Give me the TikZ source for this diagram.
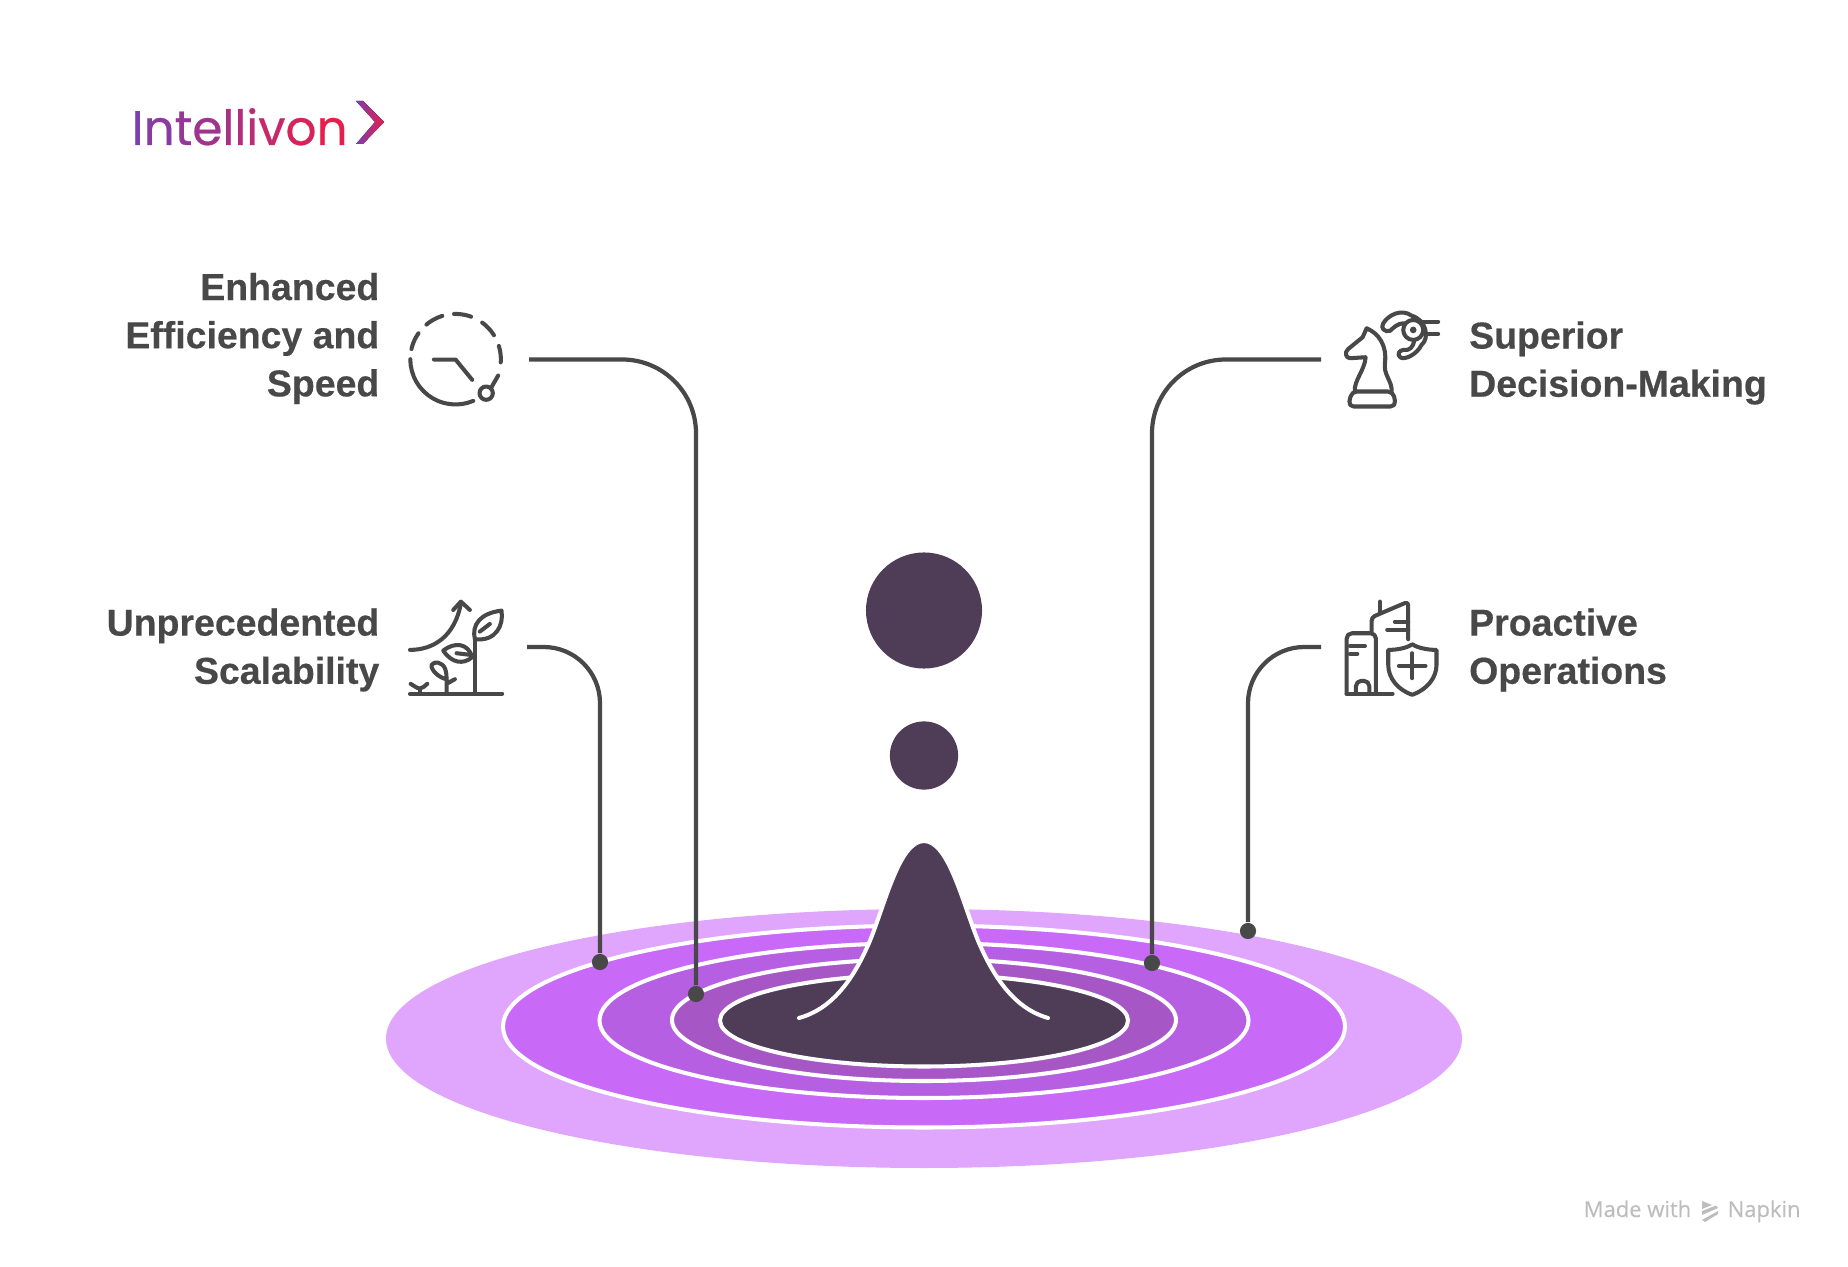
\documentclass[tikz,border=0pt]{standalone}
\usepackage{fontspec}
\setmainfont[BoldFeatures={FakeBold=0.4}]{Liberation Sans}
\newfontfamily\logofont[FakeBold=0.5]{Poppins}
\newfontfamily\footfont[FakeBold=0.2]{Open Sans}
\definecolor{inkgrey}{HTML}{484848}
\definecolor{wellplum}{HTML}{4F3D58}
\definecolor{ringa}{HTML}{E0A5FC}
\definecolor{ringb}{HTML}{C869F8}
\definecolor{ringc}{HTML}{B65FE3}
\definecolor{ringd}{HTML}{A657C5}
\definecolor{logopurple}{HTML}{7B3FB0}
\definecolor{logored}{HTML}{E61E4D}
\definecolor{footgrey}{HTML}{BDBDBD}
\tikzset{
  ringline/.style={draw=white,line width=1.15pt},
  labeltext/.style={text=inkgrey,inner sep=0pt,font=\fontsize{10.65}{13.7}\selectfont\bfseries},
  connector/.style={draw=inkgrey,line width=1.2pt,rounded corners=21pt},
  dotnode/.style={circle,fill=inkgrey,inner sep=0pt,minimum size=4.6pt},
  iconline/.style={draw=inkgrey,line width=1.15pt,line cap=round,line join=round},
  footnote/.style={text=footgrey,inner sep=0pt,anchor=base west,font=\footfont\fontsize{6.25}{7}\selectfont}
}
\begin{document}
\begin{tikzpicture}[x=0.01cm,y=-0.01cm]
  \useasboundingbox (0,0) rectangle (1848,1267);
  \fill[white] (0,0) rectangle (1848,1267);

  \node[anchor=base west,inner sep=0pt,font=\logofont\fontsize{13.8}{15}\selectfont] (logotext) at (131,145)
    {\textcolor{logopurple}{I}\textcolor{logored!12!logopurple}{n}\textcolor{logored!24!logopurple}{t}\textcolor{logored!34!logopurple}{e}\textcolor{logored!42!logopurple}{l}\textcolor{logored!50!logopurple}{l}\textcolor{logored!58!logopurple}{i}\textcolor{logored!72!logopurple}{v}\textcolor{logored!86!logopurple}{o}\textcolor{logored}{n}};
  \fill[left color=logopurple,right color=logored] (356,101) -- (363,101) -- (384,122) -- (363,144) -- (356,144) -- (375,122) -- cycle;

  \fill[ringa] (924,1038.5) ellipse [x radius=538,y radius=129.5];
  \filldraw[fill=ringb,ringline] (924,1026.5) ellipse [x radius=421,y radius=101];
  \filldraw[fill=ringc,ringline] (924,1020.5) ellipse [x radius=324.5,y radius=77.5];
  \filldraw[fill=ringd,ringline] (924,1020) ellipse [x radius=252,y radius=61];
  \filldraw[fill=wellplum,ringline] (924,1020.5) ellipse [x radius=204,y radius=46];
  \filldraw[fill=wellplum,ringline,line cap=round]
    (799,1018) .. controls (835,1008) and (855,975) .. (869,943)
    .. controls (885,905) and (899,841) .. (924,841)
    .. controls (949,841) and (963,905) .. (979,943)
    .. controls (993,975) and (1013,1008) .. (1048,1018);
  \fill[wellplum] (812,1018) -- (1036,1018) -- (1036,1030) -- (812,1030) -- cycle;
  \node[circle,fill=wellplum,inner sep=0pt,minimum size=33pt] (bigdrop) at (924,610.5) {};
  \node[circle,fill=wellplum,inner sep=0pt,minimum size=19.4pt] (smalldrop) at (924,755.5) {};

  \node[labeltext,anchor=east,align=right] (efficiencytext) at (380,338.5) {Enhanced\\Efficiency and\\Speed};
  \node[labeltext,anchor=east,align=right] (scalabilitytext) at (380,650) {Unprecedented\\Scalability};
  \node[labeltext,anchor=west,align=left] (decisiontext) at (1468.5,363) {Superior\\Decision-Making};
  \node[labeltext,anchor=west,align=left] (proactivetext) at (1468.5,650) {Proactive\\Operations};

  \coordinate (efficiencystart) at (529,359.5);
  \coordinate (scalabilitystart) at (527,647);
  \coordinate (decisionstart) at (1321,359.5);
  \coordinate (proactivestart) at (1321,647);
  \node[dotnode] (efficiencydot) at (696,994) {};
  \node[dotnode] (scalabilitydot) at (600,962) {};
  \node[dotnode] (decisiondot) at (1152,963) {};
  \node[dotnode] (proactivedot) at (1248,931) {};
  \draw[connector] (efficiencystart) -| (efficiencydot);
  \draw[connector,rounded corners=16pt] (scalabilitystart) -| (scalabilitydot);
  \draw[connector] (decisionstart) -| (decisiondot);
  \draw[connector,rounded corners=16pt] (proactivestart) -| (proactivedot);

  \begin{scope}[shift={(390,290)},x=0.00333cm,y=-0.00333cm]
    \foreach \from/\to in {167/145,130/107,92/70,54/32,17/-4,180/293}
      \draw[iconline] plot[domain=\from:\to,samples=16] ({197+136*cos(\x)},{208-136*sin(\x)});
    \draw[iconline] (325,257) -- (305,292);
    \draw[iconline] (289,310) circle [radius=20];
    \draw[iconline] (132,209) -- (197,209) -- (247,270);
  \end{scope}

  \begin{scope}[shift={(390,580)},x=0.00333cm,y=-0.00333cm]
    \draw[iconline] (60,342) -- (337,342);
    \draw[iconline] (90,342) -- (90,326);
    \draw[iconline] (62,312) .. controls (72,318) and (82,326) .. (90,326) .. controls (98,326) and (104,318) .. (112,312);
    \draw[iconline] (170,342) -- (170,300) (170,312) -- (195,298);
    \draw[iconline] (170,298) .. controls (150,295) and (122,272) .. (125,255) .. controls (132,243) and (158,245) .. (166,268) .. controls (170,280) and (170,290) .. (170,298) -- cycle;
    \draw[iconline] (255,342) -- (255,178);
    \draw[iconline] (255,178) .. controls (245,135) and (270,100) .. (335,92) .. controls (342,135) and (320,185) .. (255,178) -- cycle;
    \draw[iconline] (270,155) -- (300,132);
    \draw[iconline] (160,212) .. controls (195,185) and (235,190) .. (247,232) .. controls (220,255) and (185,250) .. (160,212) -- cycle;
    \draw[iconline] (200,220) -- (250,226);
    \draw[iconline] (60,210) .. controls (130,210) and (195,170) .. (213,70);
    \draw[iconline] (190,90) -- (213,65) -- (240,90);
  \end{scope}

  \begin{scope}[shift={(1330,295)},x=0.00333cm,y=-0.00333cm]
    \draw[iconline] (75,290) .. controls (70,260) and (105,225) .. (107,187) -- (60,190) .. controls (48,190) and (42,172) .. (55,162) -- (98,127) -- (110,100) .. controls (145,115) and (172,150) .. (165,205) .. controls (160,240) and (188,260) .. (185,290);
    \draw[iconline,rounded corners=1.5pt] (65,290) -- (190,290) -- (198,335) -- (55,335) -- cycle;
    \draw[iconline] (250,105) circle [radius=30];
    \fill[inkgrey] (250,105) circle [radius=10];
    \draw[iconline] (225,85) .. controls (200,85) and (190,100) .. (180,108) .. controls (165,112) and (150,100) .. (160,85) .. controls (175,60) and (215,40) .. (245,62) .. controls (290,75) and (300,130) .. (275,150) .. controls (260,180) and (225,195) .. (212,188) .. controls (200,180) and (207,165) .. (222,165) .. controls (240,168) and (250,155) .. (253,138);
    \draw[iconline] (270,80) -- (325,80);
    \draw[iconline] (285,117) -- (325,117);
  \end{scope}

  \begin{scope}[shift={(1330,590)},x=0.00333cm,y=-0.00333cm]
    \draw[iconline,rounded corners=1.5pt] (50,312) -- (50,130) -- (138,130) -- (138,312);
    \draw[iconline] (50,312) -- (188,312);
    \draw[iconline,rounded corners=1.5pt] (78,312) -- (78,273) -- (118,273) -- (118,312);
    \draw[iconline] (60,168) -- (105,168);
    \draw[iconline] (60,192) -- (82,192);
    \draw[iconline,rounded corners=1pt] (125,125) -- (125,82) -- (235,35) -- (235,148);
    \draw[iconline] (150,35) -- (150,68);
    \draw[iconline] (195,95) -- (235,95);
    \draw[iconline] (172,120) -- (235,120);
    \draw[iconline] (247,163) .. controls (265,175) and (295,180) .. (320,180) -- (320,225) .. controls (320,265) and (290,300) .. (247,315) .. controls (204,300) and (175,265) .. (175,225) -- (175,180) .. controls (200,180) and (230,175) .. (247,163) -- cycle;
    \draw[iconline] (247,190) -- (247,265);
    \draw[iconline] (207,228) -- (287,228);
  \end{scope}

  \node[footnote] (madewith) at (1583,1217) {Made with};
  \node[footnote] (napkin) at (1727,1217) {Napkin};
  \fill[footgrey] (1702,1201) -- (1712,1205) -- (1702,1209) -- cycle;
  \fill[footgrey] (1702,1211) -- (1716,1205.5) -- (1718,1208) -- (1702,1215) -- cycle;
  \fill[footgrey] (1702,1220) -- (1718,1211) -- (1718,1214) -- (1705,1222) -- cycle;
\end{tikzpicture}
\end{document}
